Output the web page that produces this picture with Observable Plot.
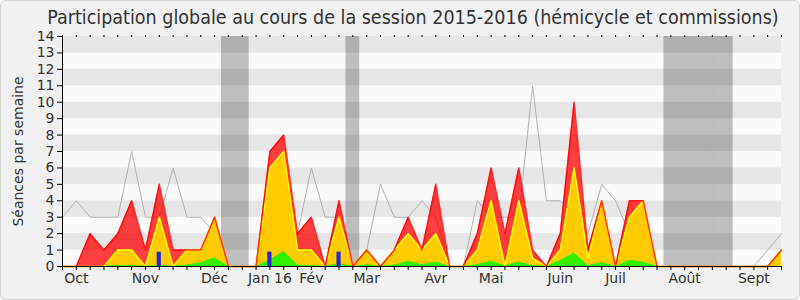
<!DOCTYPE html>
<html><head><meta charset="utf-8">
<script src="https://cdn.jsdelivr.net/npm/d3@7"></script>
<script src="https://cdn.jsdelivr.net/npm/@observablehq/plot@0.6"></script>
<style>
html,body{margin:0;padding:0;background:#fff;}
#frame{position:relative;width:800px;height:300px;background:#f0f0f0;border-radius:6px;box-shadow:inset 0 0 0 1px #d4d4d4;overflow:hidden;
  font-family:"DejaVu Sans",sans-serif;color:#333;}
#title{height:30px;line-height:35px;font-size:19.5px;text-align:center;padding-left:26px;box-sizing:border-box;white-space:nowrap;
  font-family:"DejaVu Sans Condensed","DejaVu Sans",sans-serif;font-stretch:condensed;}
svg{display:block;}
</style>
</head><body>
<div id="frame">
<div id="title">Participation globale au cours de la session 2015-2016 (hémicycle et commissions)</div>
<div id="chart"></div>
</div>
<script>
const weeks = d3.range(53);
const presenceTotale = [0,0,2,1,2,4,1,5,1,1,1,3,0,0,0,7,8,2,3,0,4,0,1,0,1,3,1,5,0,0,2,6,2,6,1,0,2,10,1,4,0,4,4,0,0,0,0,0,0,0,0,0,1];
const presenceHemicycle = [0,0,0,0,1,1,0,3,0,1,1,3,0,0,0,6,7,1,1,0,3,0,1,0,1,2,1,2,0,0,1,4,0,4,0.5,0,1,6,0.5,4,0,3,4,0,0,0,0,0,0,0,0,0,1];
const interventions = [0,0,0,0,0.05,0.05,0,0.06,0,0.08,0.22,0.5,0,0,0,0.4,0.9,0.08,0.03,0,0.16,0,0.1,0,0.08,0.3,0.1,0.26,0,0,0.1,0.3,0.05,0.26,0.05,0,0.36,0.8,0.05,0.22,0,0.36,0.26,0,0,0,0,0,0,0,0,0,0];
const mediane = [3,4,3,3,3,7,3,3,6,3,3,2,0,0,0,5,2,2,6,3,3,0,1,5,3,3,4,3,0,0,4,3,3,3,11,4,4,3,2,5,4,2,3,0,0,0,0,0,0,0,0,1,2];
const questionsSemaines = [7,15,20];
const questionsValeurs = [0.87,0.87,0.87];
const vacances = [12,13,21,44,45,46,47,48];
const yTicks = d3.range(0,15);
const moisTicks = [1,6,11,15,18,22,27,31,36,40,45,50];
const moisLabels = ["Oct","Nov","Déc","Jan 16","Fév","Mar","Avr","Mai","Juin","Juil","Août","Sept"];

const data = weeks.map((w,i)=>({w, total:presenceTotale[i], hemi:presenceHemicycle[i], inter:interventions[i], med:mediane[i]}));
const questions = questionsSemaines.map((w,i)=>({w, v:questionsValeurs[i]}));
const stripes = d3.range(0,14);
const x0 = weeks[0], x1 = weeks[weeks.length-1];

const chart = Plot.plot({
  width: 800, height: 270,
  marginLeft: 62, marginRight: 19, marginTop: 6, marginBottom: 34,
  x: {domain: [x0, x1], axis: null},
  y: {domain: [0, 14], axis: null},
  style: {background: "transparent", fontFamily: '"DejaVu Sans",sans-serif', fontSize: "14px", color: "#333", overflow: "visible"},
  marks: [
    Plot.rect(stripes, {x1: x0, x2: x1, y1: d => d, y2: d => d + 1, fill: d => d % 2 ? "#e6e6e6" : "#fafafa"}),
    Plot.rect(vacances, {x1: d => d - 0.5, x2: d => d + 0.5, y1: 0, y2: 14, fill: "#000", fillOpacity: 0.24}),
    Plot.lineY(data, {x: "w", y: "med", stroke: "#b2b2b2", strokeWidth: 1}),
    Plot.areaY(data, {x: "w", y: "total", fill: "#ff0000", fillOpacity: 0.75}),
    Plot.areaY(data, {x: "w", y: "hemi", fill: "#ffd400", fillOpacity: 0.95}),
    Plot.areaY(data, {x: "w", y: "inter", fill: "#33f000"}),
    Plot.lineY(data, {x: "w", y: "inter", stroke: "#33f000", strokeWidth: 1}),
    Plot.lineY(data, {x: "w", y: "hemi", stroke: "#ffff00", strokeWidth: 1.5}),
    Plot.lineY(data, {x: "w", y: "total", stroke: "#ff0000", strokeWidth: 1.5, strokeOpacity: 0.8}),
    Plot.rect(questions, {x1: d => d.w - 0.15, x2: d => d.w + 0.15, y1: 0, y2: "v", fill: "#2626d9"}),
    Plot.ruleY([0], {stroke: "#000"}),
    Plot.ruleX([x0], {stroke: "#000"}),
    Plot.axisY({ticks: yTicks, tickSize: 5, tickPadding: 3, fontSize: 14, label: null, stroke: "#000", fill: "#333"}),
    Plot.axisX({ticks: weeks, tickSize: 4, fill: "none", label: null, stroke: "#000"}),
    Plot.axisX({anchor: "top", ticks: weeks, tickSize: 2, fill: "none", label: null, stroke: "#000"}),
    Plot.axisX({ticks: moisTicks, tickSize: 0, tickPadding: 7, tickFormat: d => moisLabels[moisTicks.indexOf(d)], fontSize: 14, label: null, fill: "#333"}),
    Plot.text(["Séances par semaine"], {frameAnchor: "left", textAnchor: "middle", rotate: -90, dx: -44, fontSize: 14, fill: "#333"})
  ]
});
document.getElementById("chart").appendChild(chart);
</script>
</body></html>
